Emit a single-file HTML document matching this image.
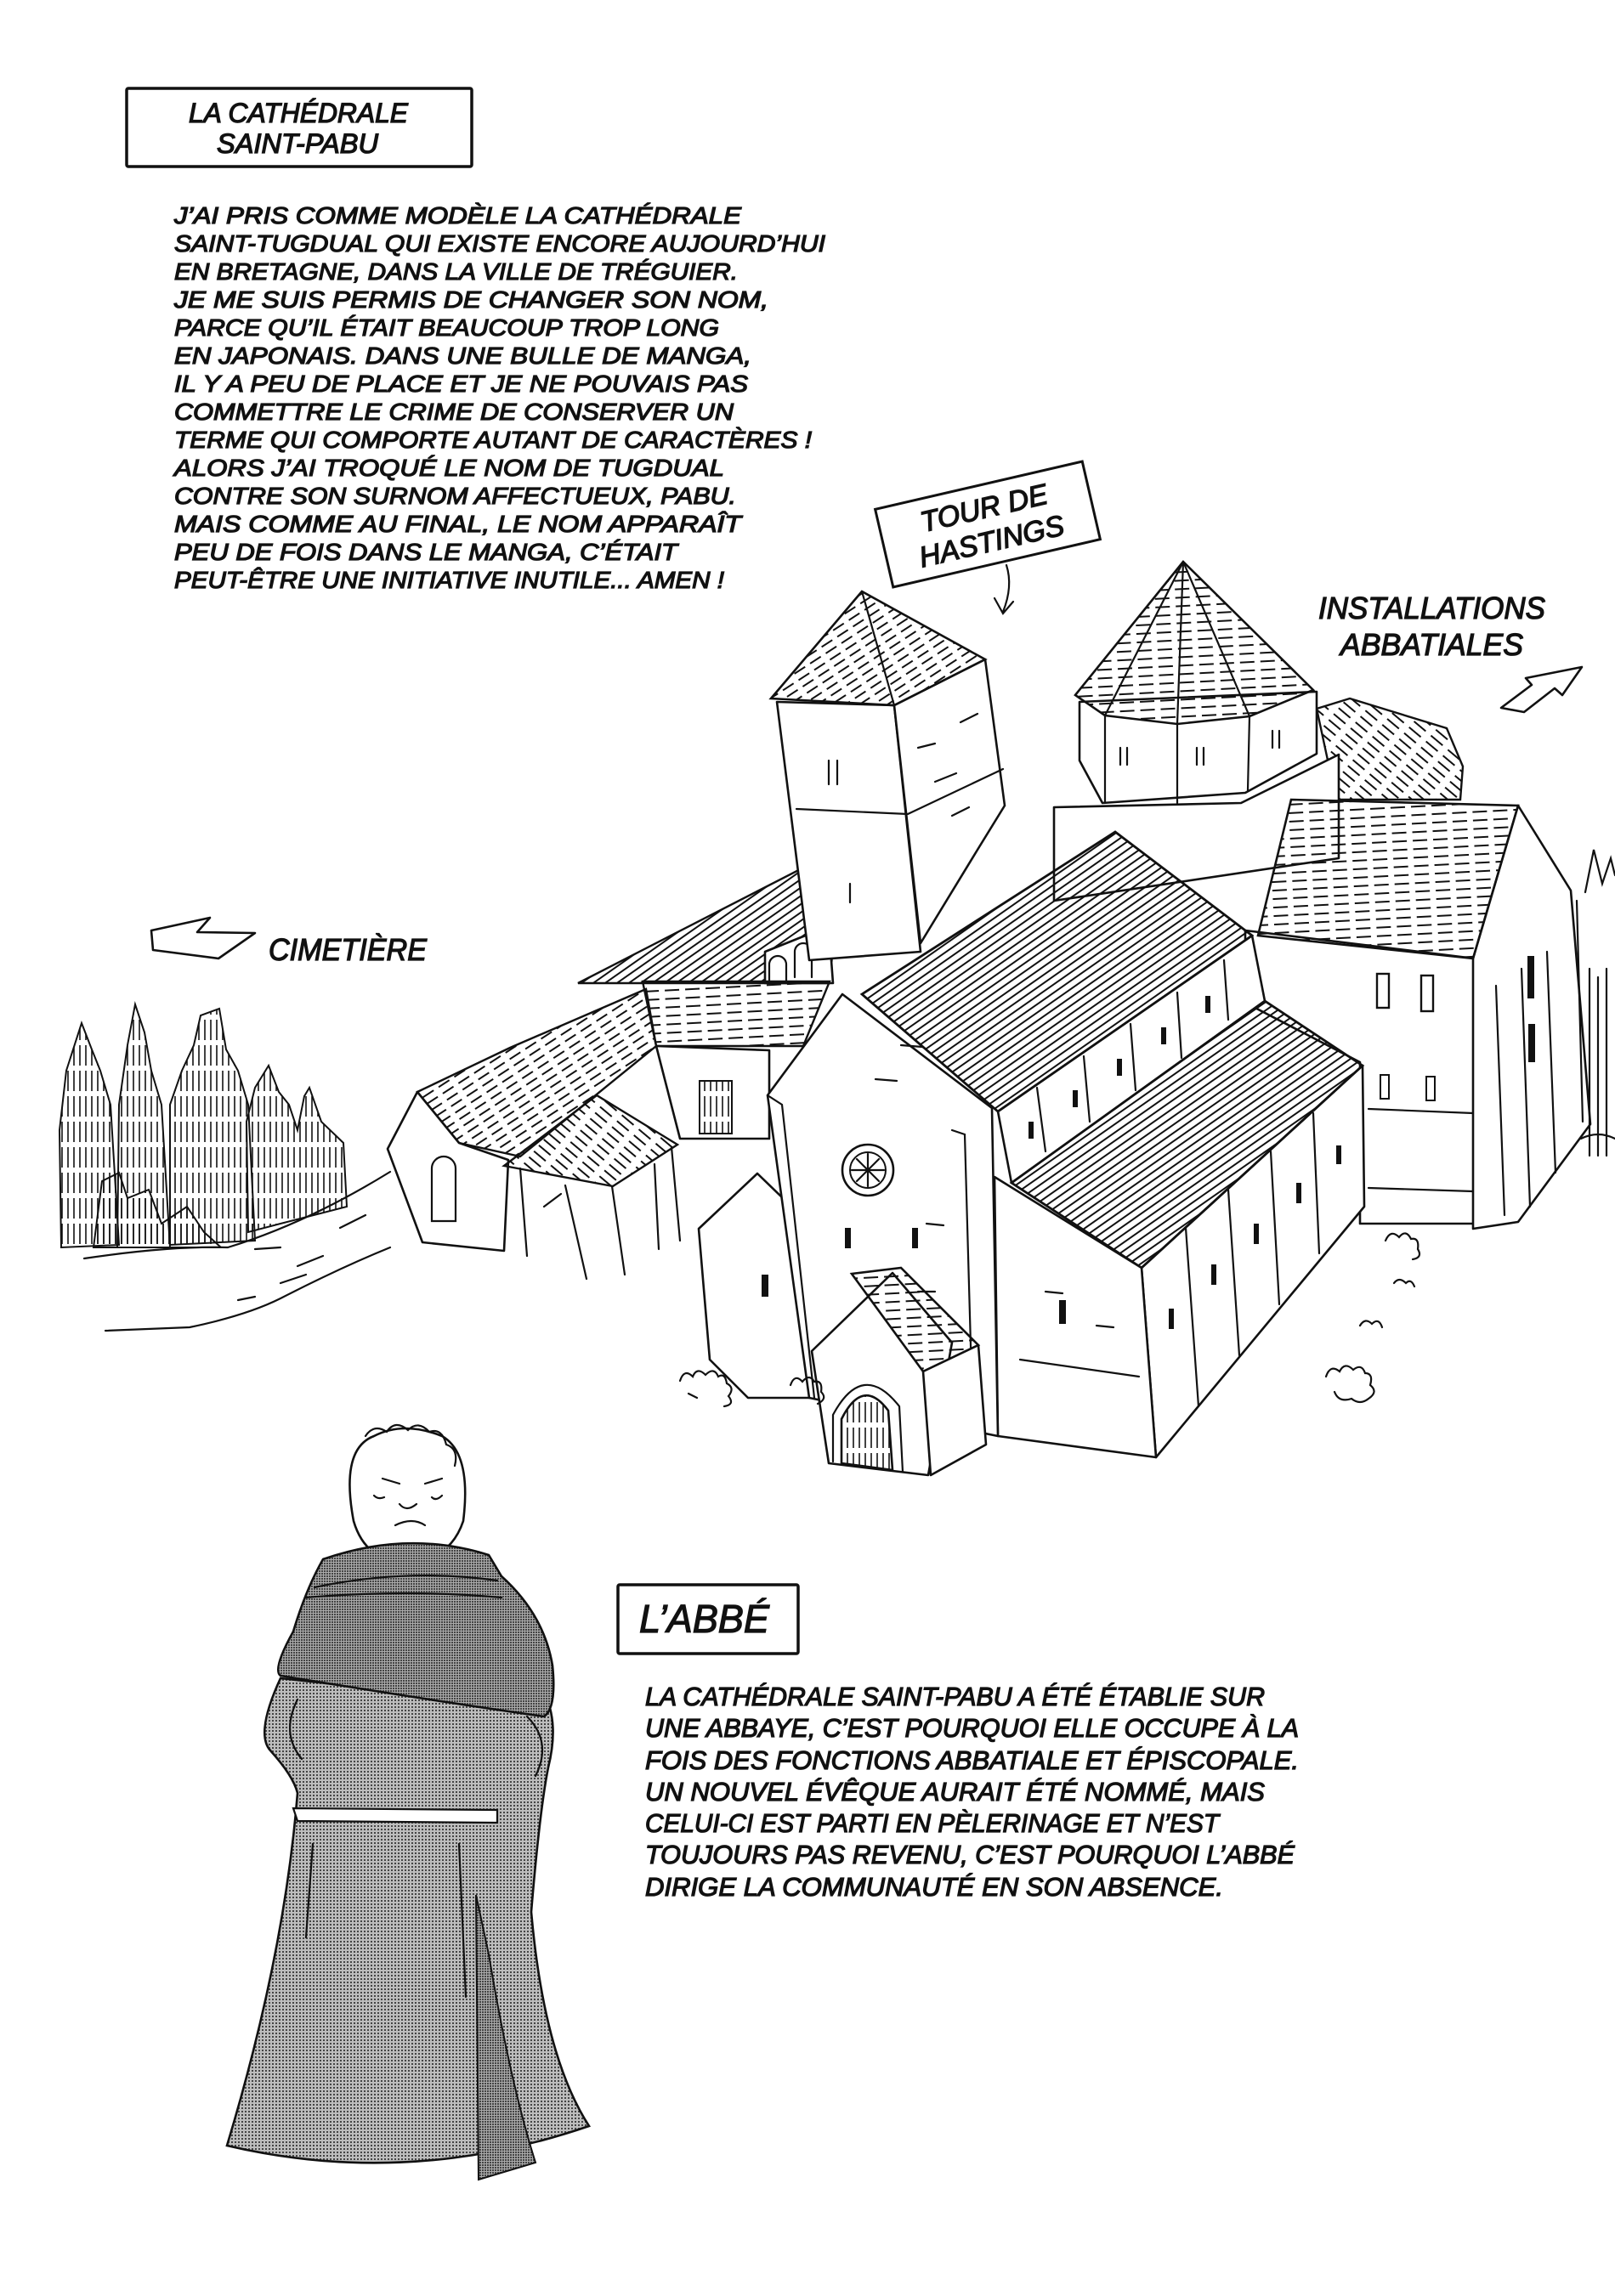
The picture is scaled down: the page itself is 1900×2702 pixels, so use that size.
<!DOCTYPE html>
<html><head><meta charset="utf-8">
<style>
html,body{margin:0;padding:0;background:#fff;}
svg{display:block;}
.t{font-family:"Liberation Sans",sans-serif;font-style:italic;fill:#111;stroke:#111;stroke-width:1.3px;}
.o{fill:#fff;stroke:#111;stroke-width:2.6;stroke-linejoin:round;}
.l{fill:none;stroke:#111;stroke-width:2.2;stroke-linecap:round;}
</style></head>
<body>
<svg width="1900" height="2702" viewBox="0 0 1900 2702" xmlns="http://www.w3.org/2000/svg">
<defs>
<pattern id="roofA" width="22" height="9" patternUnits="userSpaceOnUse" patternTransform="rotate(-33)">
<line x1="0" y1="4" x2="15" y2="4" stroke="#111" stroke-width="2"/></pattern>
<pattern id="roofB" width="24" height="10" patternUnits="userSpaceOnUse" patternTransform="rotate(-3)">
<line x1="0" y1="5" x2="17" y2="5" stroke="#111" stroke-width="2"/></pattern>
<pattern id="roofC" width="26" height="9" patternUnits="userSpaceOnUse" patternTransform="rotate(40)">
<line x1="0" y1="4" x2="18" y2="4" stroke="#111" stroke-width="2"/></pattern>
<pattern id="roofD" width="22" height="8" patternUnits="userSpaceOnUse" patternTransform="rotate(-35)">
<line x1="0" y1="4" x2="22" y2="4" stroke="#111" stroke-width="2"/></pattern>
<pattern id="vl" width="7" height="30" patternUnits="userSpaceOnUse">
<line x1="3" y1="0" x2="3" y2="24" stroke="#111" stroke-width="1.6"/></pattern>
<pattern id="tone" width="4" height="4" patternUnits="userSpaceOnUse">
<rect width="4" height="4" fill="#bdbdbd"/><rect width="2" height="2" fill="#444"/></pattern>
<pattern id="tone2" width="3" height="3" patternUnits="userSpaceOnUse">
<rect width="3" height="3" fill="#aaa"/><rect width="2" height="2" fill="#444"/></pattern>
</defs>

<rect x="149" y="104" width="406" height="92" fill="#fff" stroke="#111" stroke-width="3.5" rx="2"/>
<text class="t" x="222" y="144" font-size="32" textLength="258" lengthAdjust="spacingAndGlyphs">LA CATHÉDRALE</text>
<text class="t" x="255" y="180" font-size="32" textLength="190" lengthAdjust="spacingAndGlyphs">SAINT-PABU</text>

<g class="t" font-size="28">
<text x="205" y="263" textLength="667" lengthAdjust="spacingAndGlyphs">J’AI PRIS COMME MODÈLE LA CATHÉDRALE</text>
<text x="205" y="296" textLength="766" lengthAdjust="spacingAndGlyphs">SAINT-TUGDUAL QUI EXISTE ENCORE AUJOURD’HUI</text>
<text x="205" y="329" textLength="663" lengthAdjust="spacingAndGlyphs">EN BRETAGNE, DANS LA VILLE DE TRÉGUIER.</text>
<text x="205" y="362" textLength="699" lengthAdjust="spacingAndGlyphs">JE ME SUIS PERMIS DE CHANGER SON NOM,</text>
<text x="205" y="395" textLength="641" lengthAdjust="spacingAndGlyphs">PARCE QU’IL ÉTAIT BEAUCOUP TROP LONG</text>
<text x="205" y="428" textLength="679" lengthAdjust="spacingAndGlyphs">EN JAPONAIS. DANS UNE BULLE DE MANGA,</text>
<text x="205" y="461" textLength="675" lengthAdjust="spacingAndGlyphs">IL Y A PEU DE PLACE ET JE NE POUVAIS PAS</text>
<text x="205" y="494" textLength="658" lengthAdjust="spacingAndGlyphs">COMMETTRE LE CRIME DE CONSERVER UN</text>
<text x="205" y="527" textLength="750" lengthAdjust="spacingAndGlyphs">TERME QUI COMPORTE AUTANT DE CARACTÈRES !</text>
<text x="205" y="560" textLength="647" lengthAdjust="spacingAndGlyphs">ALORS J’AI TROQUÉ LE NOM DE TUGDUAL</text>
<text x="205" y="593" textLength="661" lengthAdjust="spacingAndGlyphs">CONTRE SON SURNOM AFFECTUEUX, PABU.</text>
<text x="205" y="626" textLength="667" lengthAdjust="spacingAndGlyphs">MAIS COMME AU FINAL, LE NOM APPARAÎT</text>
<text x="205" y="659" textLength="592" lengthAdjust="spacingAndGlyphs">PEU DE FOIS DANS LE MANGA, C’ÉTAIT</text>
<text x="205" y="692" textLength="647" lengthAdjust="spacingAndGlyphs">PEUT-ÊTRE UNE INITIATIVE INUTILE... AMEN !</text>
</g>

<g transform="translate(1162,617) rotate(-13)">
<rect x="-125" y="-47" width="250" height="94" fill="#fff" stroke="#111" stroke-width="3"/>
<text class="t" x="0" y="-8" font-size="34" text-anchor="middle">TOUR DE</text>
<text class="t" x="0" y="32" font-size="34" text-anchor="middle">HASTINGS</text>
</g>
<path class="l" d="M1184,665 Q1192,690 1180,720 M1170,704 L1180,722 L1192,708"/>

<text class="t" x="1551" y="728" font-size="36" textLength="267" lengthAdjust="spacingAndGlyphs">INSTALLATIONS</text>
<text class="t" x="1577" y="771" font-size="36" textLength="215" lengthAdjust="spacingAndGlyphs">ABBATIALES</text>
<polygon class="o" points="1766,833 1802,806 1795,798 1861,785 1838,818 1829,810 1793,838"/>

<polygon class="o" points="178,1095 247,1080 232,1097 300,1098 257,1128 180,1118"/>
<text class="t" x="316" y="1130" font-size="36" textLength="186" lengthAdjust="spacingAndGlyphs">CIMETIÈRE</text>

<g>
<polygon points="70,1330 78,1260 96,1204 108,1235 118,1260 130,1300 140,1465 72,1468" fill="url(#vl)" stroke="#111" stroke-width="2"/>
<polygon points="140,1300 150,1230 159,1182 170,1215 178,1260 190,1300 200,1468 138,1468" fill="url(#vl)" stroke="#111" stroke-width="2"/>
<polygon points="200,1300 214,1260 228,1230 236,1195 258,1187 266,1235 280,1260 292,1300 300,1460 200,1465" fill="url(#vl)" stroke="#111" stroke-width="2"/>
<polygon points="290,1320 300,1280 316,1254 328,1285 340,1300 350,1330 358,1290 364,1280 378,1320 404,1345 408,1420 330,1440 292,1450" fill="url(#vl)" stroke="#111" stroke-width="2"/>
<polygon points="110,1468 120,1390 140,1380 150,1410 175,1400 190,1440 220,1420 240,1450 260,1468" fill="url(#vl)" stroke="#111" stroke-width="2"/>
</g>
<path class="l" d="M99,1481 Q200,1466 268,1468 Q360,1440 459,1379"/>
<path class="l" d="M124,1566 L223,1562 Q290,1548 330,1528 Q400,1492 459,1468"/>
<path class="l" d="M300,1470 L330,1468 M350,1490 L380,1478 M330,1510 L360,1500 M400,1445 L430,1430 M280,1530 L300,1526"/>

<polygon points="680,1157 957,1015 985,1060 976,1157" fill="url(#roofD)" stroke="#111" stroke-width="2.4"/>
<polygon class="o" points="900,1120 975,1090 980,1157 900,1157"/>
<path class="l" d="M905,1157 v-22 a10,10 0 0 1 20,0 v22 M935,1150 v-30 a10,10 0 0 1 20,0 v30"/>
<polygon points="756,1155 976,1155 945,1231 772,1231" fill="url(#roofB)" stroke="#111" stroke-width="2.4"/>
<polygon class="o" points="772,1231 905,1236 905,1340 800,1340"/>
<rect x="823" y="1272" width="38" height="62" fill="url(#vl)" stroke="#111" stroke-width="2"/>
<polygon points="491,1285 600,1233 760,1164 772,1231 612,1361 540,1345" fill="url(#roofA)" stroke="#111" stroke-width="2.4"/>
<polygon class="o" points="491,1285 456,1352 497,1462 593,1472 598,1365 540,1345"/>
<path class="l" d="M508,1400 v-25 a14,14 0 0 1 28,0 v62 h-28 z"/>
<polygon points="593,1372 702,1289 797,1347 721,1396" fill="url(#roofC)" stroke="#111" stroke-width="2.4"/>
<path class="l" d="M612,1375 L620,1478 M665,1395 L690,1505 M720,1396 L735,1500 M790,1350 L800,1460 M770,1370 L775,1470 M640,1420 L660,1405"/>

<polygon points="1549,834 1588,822 1702,857 1721,902 1718,941 1572,941" fill="url(#roofC)" stroke="#111" stroke-width="2.4"/>

<polygon class="o" points="1240,950 1460,945 1575,888 1575,1010 1240,1060"/>
<polygon class="o" points="1270,826 1549,814 1549,887 1465,933 1297,945 1270,895"/>
<path class="l" d="M1300,842 L1300,945 M1385,852 L1385,945 M1470,843 L1468,930 M1318,880 v20 M1326,880 v20 M1408,880 v20 M1416,880 v20 M1497,860 v20 M1505,860 v20"/>
<polygon points="1392,661 1265,818 1300,842 1385,852 1470,843 1545,812" fill="url(#roofB)" stroke="#111" stroke-width="2.6"/>
<path class="l" d="M1392,661 L1300,842 M1392,661 L1385,852 M1392,661 L1470,843"/>

<polygon class="o" points="914,826 1052,830 1083,1120 952,1130"/>
<polygon class="o" points="1052,830 1159,776 1182,948 1150,1000 1083,1110"/>
<path class="l" d="M937,952 L1068,958 L1180,905 M1080,880 L1100,875 M1100,920 L1125,910 M1120,960 L1140,950 M1130,850 L1150,840 M975,895 v28 M985,895 v28 M1000,1040 v22"/>
<polygon points="1014,696 907,822 1052,830 1159,776" fill="url(#roofA)" stroke="#111" stroke-width="2.6"/>
<path class="l" d="M1014,696 L1052,830"/>

<polygon class="o" points="1465,1095 1735,1128 1735,1440 1600,1440 1600,1250 1465,1180"/>
<polygon class="o" points="1733,1128 1786,948 1848,1048 1871,1323 1786,1438 1733,1446"/>
<polygon points="1519,941 1786,948 1733,1128 1480,1101" fill="url(#roofB)" stroke="#111" stroke-width="2.6"/>
<path class="l" d="M1610,1305 L1733,1310 M1610,1398 L1733,1402 M1760,1160 L1770,1430 M1790,1140 L1800,1420 M1820,1120 L1830,1380 M1855,1060 L1862,1320"/>
<rect x="1620" y="1146" width="14" height="40" fill="#fff" stroke="#111" stroke-width="2.4"/>
<rect x="1672" y="1148" width="14" height="42" fill="#fff" stroke="#111" stroke-width="2.4"/>
<rect x="1624" y="1265" width="10" height="28" fill="#fff" stroke="#111" stroke-width="2"/>
<rect x="1678" y="1267" width="10" height="28" fill="#fff" stroke="#111" stroke-width="2"/>
<rect x="1797" y="1125" width="8" height="50" fill="#111"/>
<rect x="1798" y="1205" width="8" height="45" fill="#111"/>
<path class="l" d="M1865,1050 L1875,1000 L1885,1040 L1895,1010 L1900,1030 M1870,1140 L1870,1360 M1880,1150 L1880,1360 M1890,1140 L1890,1360 M1860,1340 Q1880,1330 1900,1340"/>

<polygon class="o" points="1174,1308 1473,1101 1488,1178 1190,1392"/>
<path class="l" d="M1220,1280 L1230,1355 M1275,1243 L1282,1320 M1330,1205 L1336,1283 M1385,1168 L1390,1245 M1440,1130 L1445,1200"/>
<g fill="#111"><rect x="1210" y="1320" width="6" height="20"/><rect x="1262" y="1283" width="6" height="20"/><rect x="1314" y="1246" width="6" height="20"/><rect x="1366" y="1209" width="6" height="20"/><rect x="1418" y="1172" width="6" height="20"/></g>
<polygon points="1014,1170 1312,979 1473,1101 1174,1308" fill="url(#roofD)" stroke="#111" stroke-width="2.8"/>
<polygon class="o" points="1343,1492 1603,1254 1605,1420 1360,1715"/>
<path class="l" d="M1395,1445 L1410,1655 M1445,1400 L1458,1595 M1495,1355 L1505,1535 M1545,1310 L1552,1475"/>
<g fill="#111"><rect x="1375" y="1540" width="6" height="24"/><rect x="1425" y="1488" width="6" height="24"/><rect x="1475" y="1440" width="6" height="24"/><rect x="1525" y="1392" width="6" height="24"/><rect x="1572" y="1348" width="6" height="22"/></g>
<polygon points="1190,1392 1488,1178 1603,1254 1343,1492" fill="url(#roofD)" stroke="#111" stroke-width="2.8"/>
<polygon class="o" points="1170,1385 1343,1492 1360,1715 1174,1690"/>
<path class="l" d="M1200,1600 L1340,1620 M1230,1520 L1250,1522 M1290,1560 L1310,1562"/>
<rect x="1246" y="1530" width="8" height="28" fill="#111"/>

<polygon class="o" points="822,1446 891,1381 952,1440 952,1645 880,1645 835,1600"/>
<rect x="896" y="1500" width="8" height="26" fill="#111"/>
<polygon class="o" points="991,1170 903,1289 952,1645 1174,1690 1167,1304"/>
<path class="l" d="M903,1289 L920,1300 L958,1645 M1120,1330 L1135,1335 L1145,1690 M1060,1230 L1085,1232 M1030,1270 L1055,1272 M1090,1440 L1110,1442 M1080,1520 L1100,1520"/>
<circle cx="1021" cy="1377" r="30" fill="#fff" stroke="#111" stroke-width="2.6"/>
<circle cx="1021" cy="1377" r="21" fill="none" stroke="#111" stroke-width="2"/>
<path class="l" d="M1021,1358 v38 M1002,1377 h38 M1008,1364 l26,26 M1034,1364 l-26,26"/>
<rect x="994" y="1445" width="7" height="24" fill="#111"/>
<rect x="1073" y="1445" width="7" height="24" fill="#111"/>
<polygon class="o" points="955,1590 1050,1498 1120,1580 1092,1736 975,1722"/>
<polygon points="1002,1499 1060,1492 1151,1583 1086,1614" fill="url(#roofB)" stroke="#111" stroke-width="2.6"/>
<polygon class="o" points="1086,1614 1151,1583 1160,1700 1095,1736"/>
<path d="M990,1722 L990,1670 Q1015,1620 1045,1660 L1050,1730 Z" fill="url(#vl)" stroke="#111" stroke-width="2.6"/>
<path class="l" d="M980,1720 L980,1665 Q1015,1600 1058,1655 L1062,1732"/>
<path class="l" d="M800,1625 q5,-15 15,-5 q5,-12 15,-2 q10,-10 15,2 q8,-5 10,8 q10,5 2,15 q8,10 -5,12 M810,1640 l10,5 M930,1630 q5,-14 14,-4 q8,-10 14,0 q10,-2 8,12 q8,8 -4,14"/>
<path class="l" d="M1560,1620 q5,-15 16,-6 q6,-12 16,-2 q10,-8 14,4 q10,0 6,14 q10,8 -2,16 q-10,8 -20,0 q-15,5 -20,-8 M1600,1560 q6,-10 14,-2 q8,-8 12,4 M1630,1460 q6,-14 16,-4 q8,-10 14,2 q10,-2 8,12 q6,10 -6,12 M1640,1510 q6,-8 14,0 q6,-6 10,4"/>

<rect x="727" y="1865" width="212" height="81" fill="#fff" stroke="#111" stroke-width="3.5" rx="2"/>
<text class="t" x="752" y="1921" font-size="46" textLength="153" lengthAdjust="spacingAndGlyphs">L’ABBÉ</text>

<g class="t" font-size="31">
<text x="759" y="2007" textLength="729" lengthAdjust="spacingAndGlyphs">LA CATHÉDRALE SAINT-PABU A ÉTÉ ÉTABLIE SUR</text>
<text x="759" y="2044" textLength="769" lengthAdjust="spacingAndGlyphs">UNE ABBAYE, C’EST POURQUOI ELLE OCCUPE À LA</text>
<text x="759" y="2082" textLength="769" lengthAdjust="spacingAndGlyphs">FOIS DES FONCTIONS ABBATIALE ET ÉPISCOPALE.</text>
<text x="759" y="2119" textLength="729" lengthAdjust="spacingAndGlyphs">UN NOUVEL ÉVÊQUE AURAIT ÉTÉ NOMMÉ, MAIS</text>
<text x="759" y="2156" textLength="675" lengthAdjust="spacingAndGlyphs">CELUI-CI EST PARTI EN PÈLERINAGE ET N’EST</text>
<text x="759" y="2193" textLength="764" lengthAdjust="spacingAndGlyphs">TOUJOURS PAS REVENU, C’EST POURQUOI L’ABBÉ</text>
<text x="759" y="2231" textLength="680" lengthAdjust="spacingAndGlyphs">DIRIGE LA COMMUNAUTÉ EN SON ABSENCE.</text>
</g>

<path d="M330,1975 Q300,2040 318,2060 Q345,2090 350,2110 Q335,2300 267,2525 Q480,2575 693,2502 Q640,2420 625,2250 Q635,2130 645,2080 Q655,2040 647,2010 Z" fill="url(#tone)" stroke="#111" stroke-width="2.6"/>
<path d="M560,2230 L563,2565 L630,2545 Q600,2450 575,2300 Z" fill="url(#tone2)" stroke="#111" stroke-width="2"/>
<path d="M345,2128 L585,2130 L585,2145 L350,2143 Z" fill="#fff" stroke="#111" stroke-width="2.2"/>
<path d="M416,1790 Q400,1705 440,1690 Q475,1672 520,1690 Q555,1710 545,1790 Q530,1835 480,1840 Q430,1838 416,1790 Z" fill="#fff" stroke="#111" stroke-width="2.6"/>
<path class="l" d="M430,1690 q10,-15 25,-5 q10,-15 25,-2 q12,-12 25,2 q15,-5 20,15 q15,5 10,25 M450,1740 l20,6 M500,1746 l20,-6 M470,1770 q8,10 20,0 M465,1795 q20,-10 35,0 M440,1760 q5,5 12,2 M508,1762 q5,5 12,-2"/>
<path d="M380,1835 Q480,1800 575,1830 L590,1855 Q640,1900 650,1960 Q655,2010 640,2020 Q500,2000 330,1972 Q320,1965 345,1920 Q360,1870 380,1835 Z" fill="url(#tone2)" stroke="#111" stroke-width="2.6"/>
<path class="l" d="M370,1868 Q480,1845 585,1860 M360,1880 Q480,1870 590,1880"/>
<path class="l" d="M350,2000 Q330,2040 355,2070 M620,2020 Q650,2050 630,2090 M368,2170 L360,2280 M540,2170 L548,2350"/>
</svg>
</body></html>
